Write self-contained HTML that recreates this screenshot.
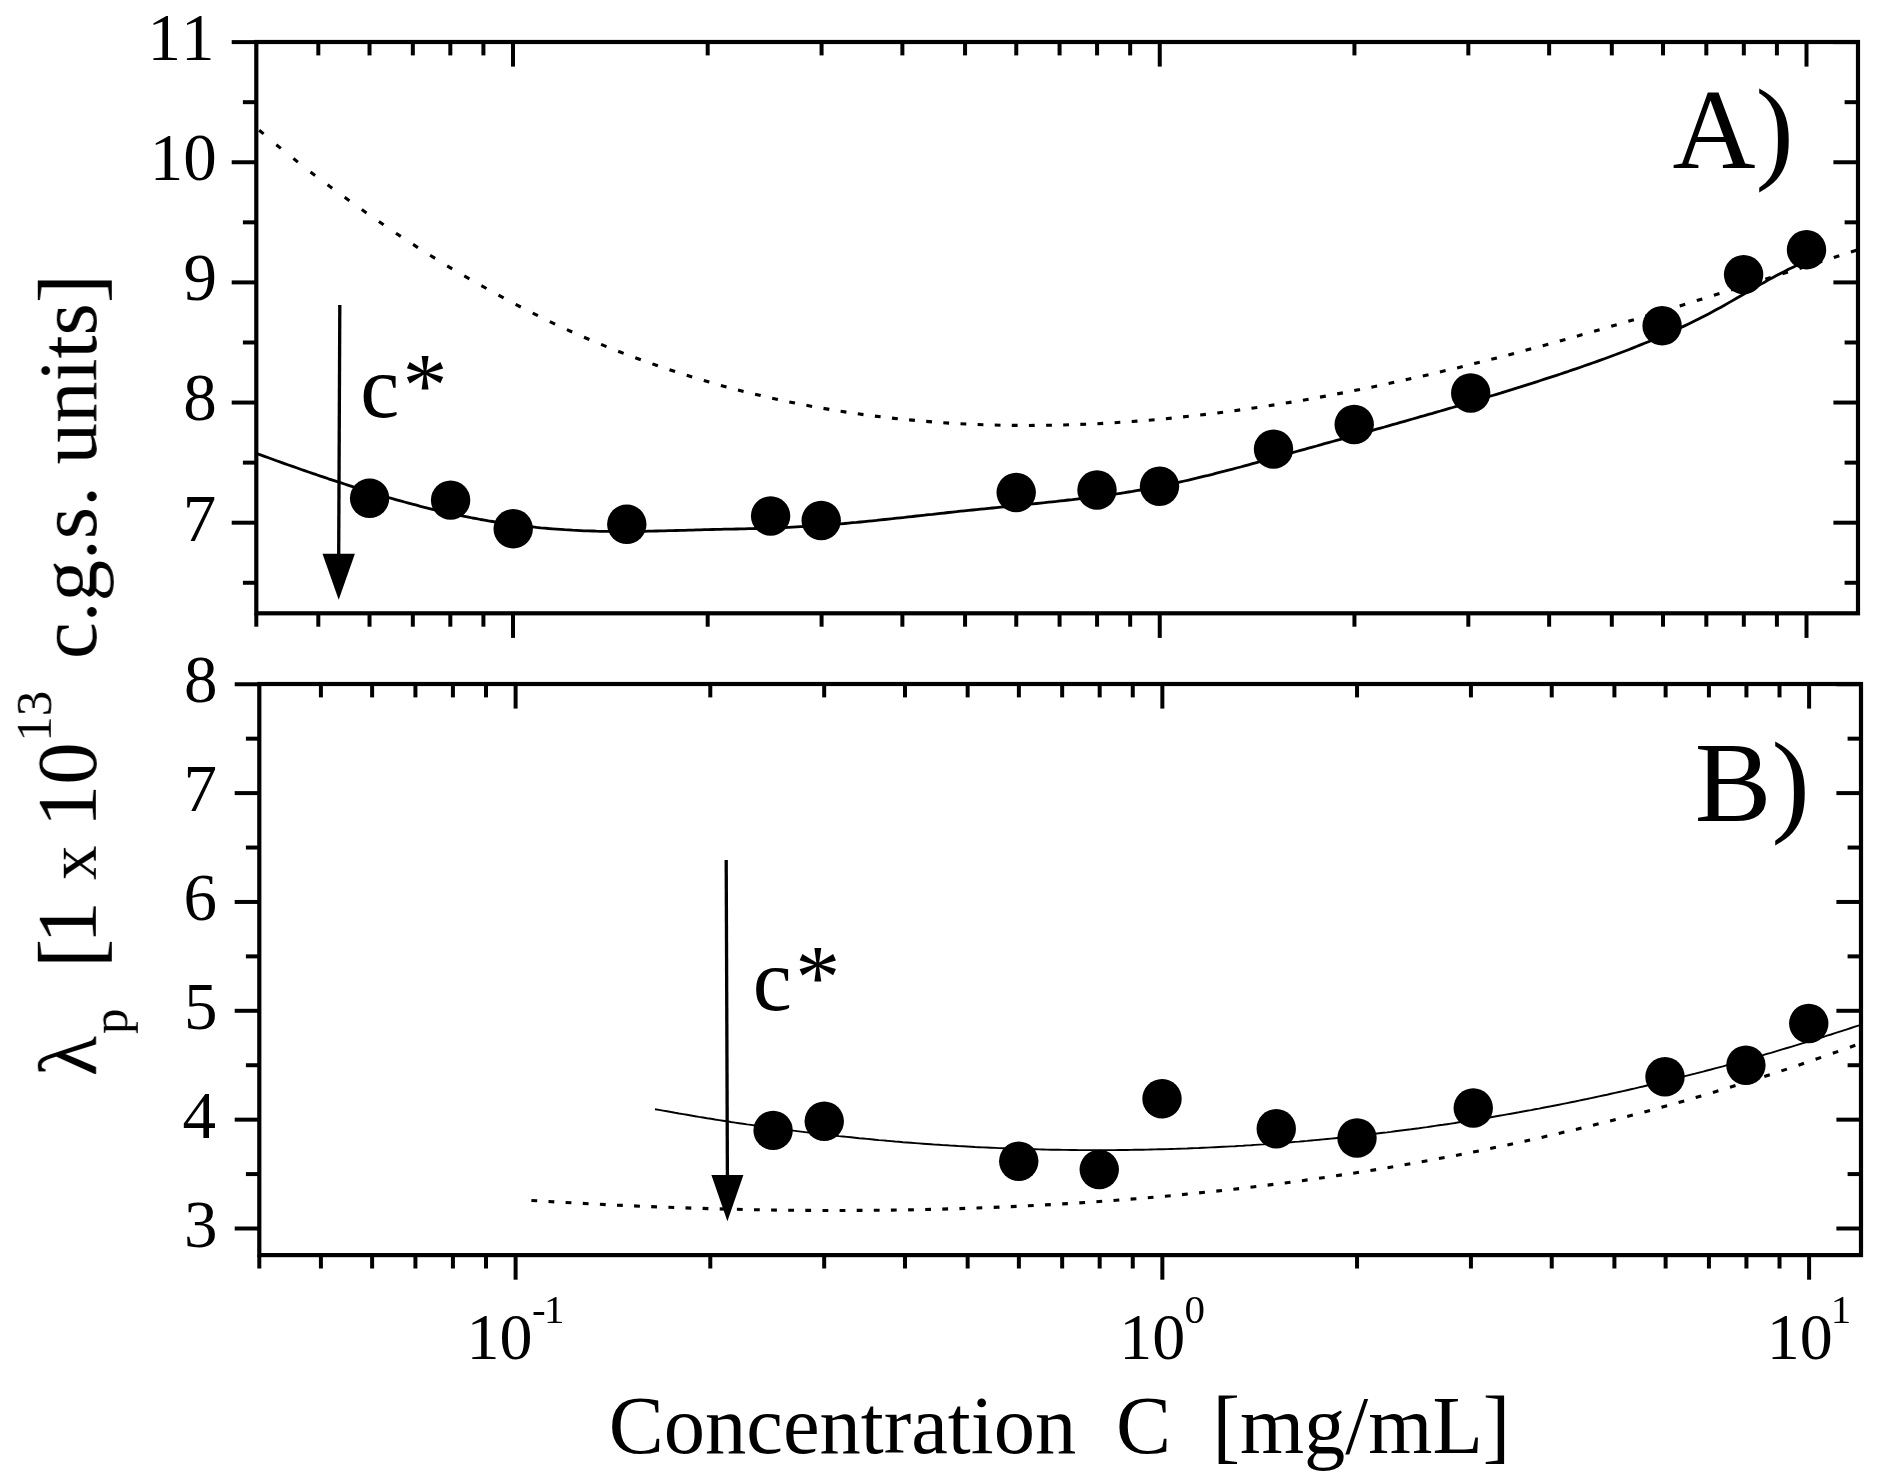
<!DOCTYPE html>
<html><head><meta charset="utf-8"><title>Figure</title>
<style>
html,body{margin:0;padding:0;background:#fff;}
svg{display:block;}
text{fill:#000;font-kerning:none;}
</style></head>
<body>
<svg width="1880" height="1480" viewBox="0 0 1880 1480">
<defs><filter id="soft" x="0" y="0" width="1880" height="1480" filterUnits="userSpaceOnUse"><feGaussianBlur stdDeviation="0.6"/></filter></defs>
<rect width="1880" height="1480" fill="#fff"/>
<g filter="url(#soft)">
<rect x="256.3" y="42.0" width="1601.70" height="571.30" fill="none" stroke="#000" stroke-width="4.2"/>
<line x1="513.00" y1="42.00" x2="513.00" y2="66.60" stroke="#000" stroke-width="4.0" stroke-linecap="butt"/>
<line x1="513.00" y1="613.30" x2="513.00" y2="637.90" stroke="#000" stroke-width="4.0" stroke-linecap="butt"/>
<line x1="1159.75" y1="42.00" x2="1159.75" y2="66.60" stroke="#000" stroke-width="4.0" stroke-linecap="butt"/>
<line x1="1159.75" y1="613.30" x2="1159.75" y2="637.90" stroke="#000" stroke-width="4.0" stroke-linecap="butt"/>
<line x1="1806.50" y1="42.00" x2="1806.50" y2="66.60" stroke="#000" stroke-width="4.0" stroke-linecap="butt"/>
<line x1="1806.50" y1="613.30" x2="1806.50" y2="637.90" stroke="#000" stroke-width="4.0" stroke-linecap="butt"/>
<line x1="256.30" y1="613.30" x2="256.30" y2="626.70" stroke="#000" stroke-width="4.0" stroke-linecap="butt"/>
<line x1="318.31" y1="42.00" x2="318.31" y2="55.40" stroke="#000" stroke-width="4.0" stroke-linecap="butt"/>
<line x1="318.31" y1="613.30" x2="318.31" y2="626.70" stroke="#000" stroke-width="4.0" stroke-linecap="butt"/>
<line x1="369.52" y1="42.00" x2="369.52" y2="55.40" stroke="#000" stroke-width="4.0" stroke-linecap="butt"/>
<line x1="369.52" y1="613.30" x2="369.52" y2="626.70" stroke="#000" stroke-width="4.0" stroke-linecap="butt"/>
<line x1="412.82" y1="42.00" x2="412.82" y2="55.40" stroke="#000" stroke-width="4.0" stroke-linecap="butt"/>
<line x1="412.82" y1="613.30" x2="412.82" y2="626.70" stroke="#000" stroke-width="4.0" stroke-linecap="butt"/>
<line x1="450.32" y1="42.00" x2="450.32" y2="55.40" stroke="#000" stroke-width="4.0" stroke-linecap="butt"/>
<line x1="450.32" y1="613.30" x2="450.32" y2="626.70" stroke="#000" stroke-width="4.0" stroke-linecap="butt"/>
<line x1="483.41" y1="42.00" x2="483.41" y2="55.40" stroke="#000" stroke-width="4.0" stroke-linecap="butt"/>
<line x1="483.41" y1="613.30" x2="483.41" y2="626.70" stroke="#000" stroke-width="4.0" stroke-linecap="butt"/>
<line x1="707.69" y1="42.00" x2="707.69" y2="55.40" stroke="#000" stroke-width="4.0" stroke-linecap="butt"/>
<line x1="707.69" y1="613.30" x2="707.69" y2="626.70" stroke="#000" stroke-width="4.0" stroke-linecap="butt"/>
<line x1="821.58" y1="42.00" x2="821.58" y2="55.40" stroke="#000" stroke-width="4.0" stroke-linecap="butt"/>
<line x1="821.58" y1="613.30" x2="821.58" y2="626.70" stroke="#000" stroke-width="4.0" stroke-linecap="butt"/>
<line x1="902.38" y1="42.00" x2="902.38" y2="55.40" stroke="#000" stroke-width="4.0" stroke-linecap="butt"/>
<line x1="902.38" y1="613.30" x2="902.38" y2="626.70" stroke="#000" stroke-width="4.0" stroke-linecap="butt"/>
<line x1="965.06" y1="42.00" x2="965.06" y2="55.40" stroke="#000" stroke-width="4.0" stroke-linecap="butt"/>
<line x1="965.06" y1="613.30" x2="965.06" y2="626.70" stroke="#000" stroke-width="4.0" stroke-linecap="butt"/>
<line x1="1016.27" y1="42.00" x2="1016.27" y2="55.40" stroke="#000" stroke-width="4.0" stroke-linecap="butt"/>
<line x1="1016.27" y1="613.30" x2="1016.27" y2="626.70" stroke="#000" stroke-width="4.0" stroke-linecap="butt"/>
<line x1="1059.57" y1="42.00" x2="1059.57" y2="55.40" stroke="#000" stroke-width="4.0" stroke-linecap="butt"/>
<line x1="1059.57" y1="613.30" x2="1059.57" y2="626.70" stroke="#000" stroke-width="4.0" stroke-linecap="butt"/>
<line x1="1097.07" y1="42.00" x2="1097.07" y2="55.40" stroke="#000" stroke-width="4.0" stroke-linecap="butt"/>
<line x1="1097.07" y1="613.30" x2="1097.07" y2="626.70" stroke="#000" stroke-width="4.0" stroke-linecap="butt"/>
<line x1="1130.16" y1="42.00" x2="1130.16" y2="55.40" stroke="#000" stroke-width="4.0" stroke-linecap="butt"/>
<line x1="1130.16" y1="613.30" x2="1130.16" y2="626.70" stroke="#000" stroke-width="4.0" stroke-linecap="butt"/>
<line x1="1354.44" y1="42.00" x2="1354.44" y2="55.40" stroke="#000" stroke-width="4.0" stroke-linecap="butt"/>
<line x1="1354.44" y1="613.30" x2="1354.44" y2="626.70" stroke="#000" stroke-width="4.0" stroke-linecap="butt"/>
<line x1="1468.33" y1="42.00" x2="1468.33" y2="55.40" stroke="#000" stroke-width="4.0" stroke-linecap="butt"/>
<line x1="1468.33" y1="613.30" x2="1468.33" y2="626.70" stroke="#000" stroke-width="4.0" stroke-linecap="butt"/>
<line x1="1549.13" y1="42.00" x2="1549.13" y2="55.40" stroke="#000" stroke-width="4.0" stroke-linecap="butt"/>
<line x1="1549.13" y1="613.30" x2="1549.13" y2="626.70" stroke="#000" stroke-width="4.0" stroke-linecap="butt"/>
<line x1="1611.81" y1="42.00" x2="1611.81" y2="55.40" stroke="#000" stroke-width="4.0" stroke-linecap="butt"/>
<line x1="1611.81" y1="613.30" x2="1611.81" y2="626.70" stroke="#000" stroke-width="4.0" stroke-linecap="butt"/>
<line x1="1663.02" y1="42.00" x2="1663.02" y2="55.40" stroke="#000" stroke-width="4.0" stroke-linecap="butt"/>
<line x1="1663.02" y1="613.30" x2="1663.02" y2="626.70" stroke="#000" stroke-width="4.0" stroke-linecap="butt"/>
<line x1="1706.32" y1="42.00" x2="1706.32" y2="55.40" stroke="#000" stroke-width="4.0" stroke-linecap="butt"/>
<line x1="1706.32" y1="613.30" x2="1706.32" y2="626.70" stroke="#000" stroke-width="4.0" stroke-linecap="butt"/>
<line x1="1743.82" y1="42.00" x2="1743.82" y2="55.40" stroke="#000" stroke-width="4.0" stroke-linecap="butt"/>
<line x1="1743.82" y1="613.30" x2="1743.82" y2="626.70" stroke="#000" stroke-width="4.0" stroke-linecap="butt"/>
<line x1="1776.91" y1="42.00" x2="1776.91" y2="55.40" stroke="#000" stroke-width="4.0" stroke-linecap="butt"/>
<line x1="1776.91" y1="613.30" x2="1776.91" y2="626.70" stroke="#000" stroke-width="4.0" stroke-linecap="butt"/>
<line x1="231.70" y1="522.70" x2="256.30" y2="522.70" stroke="#000" stroke-width="4.0" stroke-linecap="butt"/>
<line x1="1833.40" y1="522.70" x2="1858.00" y2="522.70" stroke="#000" stroke-width="4.0" stroke-linecap="butt"/>
<line x1="231.70" y1="402.55" x2="256.30" y2="402.55" stroke="#000" stroke-width="4.0" stroke-linecap="butt"/>
<line x1="1833.40" y1="402.55" x2="1858.00" y2="402.55" stroke="#000" stroke-width="4.0" stroke-linecap="butt"/>
<line x1="231.70" y1="282.40" x2="256.30" y2="282.40" stroke="#000" stroke-width="4.0" stroke-linecap="butt"/>
<line x1="1833.40" y1="282.40" x2="1858.00" y2="282.40" stroke="#000" stroke-width="4.0" stroke-linecap="butt"/>
<line x1="231.70" y1="162.25" x2="256.30" y2="162.25" stroke="#000" stroke-width="4.0" stroke-linecap="butt"/>
<line x1="1833.40" y1="162.25" x2="1858.00" y2="162.25" stroke="#000" stroke-width="4.0" stroke-linecap="butt"/>
<line x1="231.70" y1="42.10" x2="256.30" y2="42.10" stroke="#000" stroke-width="4.0" stroke-linecap="butt"/>
<line x1="1833.40" y1="42.10" x2="1858.00" y2="42.10" stroke="#000" stroke-width="4.0" stroke-linecap="butt"/>
<line x1="242.90" y1="582.78" x2="256.30" y2="582.78" stroke="#000" stroke-width="4.0" stroke-linecap="butt"/>
<line x1="1844.60" y1="582.78" x2="1858.00" y2="582.78" stroke="#000" stroke-width="4.0" stroke-linecap="butt"/>
<line x1="242.90" y1="462.63" x2="256.30" y2="462.63" stroke="#000" stroke-width="4.0" stroke-linecap="butt"/>
<line x1="1844.60" y1="462.63" x2="1858.00" y2="462.63" stroke="#000" stroke-width="4.0" stroke-linecap="butt"/>
<line x1="242.90" y1="342.48" x2="256.30" y2="342.48" stroke="#000" stroke-width="4.0" stroke-linecap="butt"/>
<line x1="1844.60" y1="342.48" x2="1858.00" y2="342.48" stroke="#000" stroke-width="4.0" stroke-linecap="butt"/>
<line x1="242.90" y1="222.33" x2="256.30" y2="222.33" stroke="#000" stroke-width="4.0" stroke-linecap="butt"/>
<line x1="1844.60" y1="222.33" x2="1858.00" y2="222.33" stroke="#000" stroke-width="4.0" stroke-linecap="butt"/>
<line x1="242.90" y1="102.18" x2="256.30" y2="102.18" stroke="#000" stroke-width="4.0" stroke-linecap="butt"/>
<line x1="1844.60" y1="102.18" x2="1858.00" y2="102.18" stroke="#000" stroke-width="4.0" stroke-linecap="butt"/>
<rect x="259.3" y="684.0" width="1601.70" height="571.10" fill="none" stroke="#000" stroke-width="4.2"/>
<line x1="515.60" y1="684.00" x2="515.60" y2="708.60" stroke="#000" stroke-width="4.0" stroke-linecap="butt"/>
<line x1="515.60" y1="1255.10" x2="515.60" y2="1279.70" stroke="#000" stroke-width="4.0" stroke-linecap="butt"/>
<line x1="1162.35" y1="684.00" x2="1162.35" y2="708.60" stroke="#000" stroke-width="4.0" stroke-linecap="butt"/>
<line x1="1162.35" y1="1255.10" x2="1162.35" y2="1279.70" stroke="#000" stroke-width="4.0" stroke-linecap="butt"/>
<line x1="1809.10" y1="684.00" x2="1809.10" y2="708.60" stroke="#000" stroke-width="4.0" stroke-linecap="butt"/>
<line x1="1809.10" y1="1255.10" x2="1809.10" y2="1279.70" stroke="#000" stroke-width="4.0" stroke-linecap="butt"/>
<line x1="259.30" y1="1255.10" x2="259.30" y2="1268.50" stroke="#000" stroke-width="4.0" stroke-linecap="butt"/>
<line x1="320.91" y1="684.00" x2="320.91" y2="697.40" stroke="#000" stroke-width="4.0" stroke-linecap="butt"/>
<line x1="320.91" y1="1255.10" x2="320.91" y2="1268.50" stroke="#000" stroke-width="4.0" stroke-linecap="butt"/>
<line x1="372.12" y1="684.00" x2="372.12" y2="697.40" stroke="#000" stroke-width="4.0" stroke-linecap="butt"/>
<line x1="372.12" y1="1255.10" x2="372.12" y2="1268.50" stroke="#000" stroke-width="4.0" stroke-linecap="butt"/>
<line x1="415.42" y1="684.00" x2="415.42" y2="697.40" stroke="#000" stroke-width="4.0" stroke-linecap="butt"/>
<line x1="415.42" y1="1255.10" x2="415.42" y2="1268.50" stroke="#000" stroke-width="4.0" stroke-linecap="butt"/>
<line x1="452.92" y1="684.00" x2="452.92" y2="697.40" stroke="#000" stroke-width="4.0" stroke-linecap="butt"/>
<line x1="452.92" y1="1255.10" x2="452.92" y2="1268.50" stroke="#000" stroke-width="4.0" stroke-linecap="butt"/>
<line x1="486.01" y1="684.00" x2="486.01" y2="697.40" stroke="#000" stroke-width="4.0" stroke-linecap="butt"/>
<line x1="486.01" y1="1255.10" x2="486.01" y2="1268.50" stroke="#000" stroke-width="4.0" stroke-linecap="butt"/>
<line x1="710.29" y1="684.00" x2="710.29" y2="697.40" stroke="#000" stroke-width="4.0" stroke-linecap="butt"/>
<line x1="710.29" y1="1255.10" x2="710.29" y2="1268.50" stroke="#000" stroke-width="4.0" stroke-linecap="butt"/>
<line x1="824.18" y1="684.00" x2="824.18" y2="697.40" stroke="#000" stroke-width="4.0" stroke-linecap="butt"/>
<line x1="824.18" y1="1255.10" x2="824.18" y2="1268.50" stroke="#000" stroke-width="4.0" stroke-linecap="butt"/>
<line x1="904.98" y1="684.00" x2="904.98" y2="697.40" stroke="#000" stroke-width="4.0" stroke-linecap="butt"/>
<line x1="904.98" y1="1255.10" x2="904.98" y2="1268.50" stroke="#000" stroke-width="4.0" stroke-linecap="butt"/>
<line x1="967.66" y1="684.00" x2="967.66" y2="697.40" stroke="#000" stroke-width="4.0" stroke-linecap="butt"/>
<line x1="967.66" y1="1255.10" x2="967.66" y2="1268.50" stroke="#000" stroke-width="4.0" stroke-linecap="butt"/>
<line x1="1018.87" y1="684.00" x2="1018.87" y2="697.40" stroke="#000" stroke-width="4.0" stroke-linecap="butt"/>
<line x1="1018.87" y1="1255.10" x2="1018.87" y2="1268.50" stroke="#000" stroke-width="4.0" stroke-linecap="butt"/>
<line x1="1062.17" y1="684.00" x2="1062.17" y2="697.40" stroke="#000" stroke-width="4.0" stroke-linecap="butt"/>
<line x1="1062.17" y1="1255.10" x2="1062.17" y2="1268.50" stroke="#000" stroke-width="4.0" stroke-linecap="butt"/>
<line x1="1099.67" y1="684.00" x2="1099.67" y2="697.40" stroke="#000" stroke-width="4.0" stroke-linecap="butt"/>
<line x1="1099.67" y1="1255.10" x2="1099.67" y2="1268.50" stroke="#000" stroke-width="4.0" stroke-linecap="butt"/>
<line x1="1132.76" y1="684.00" x2="1132.76" y2="697.40" stroke="#000" stroke-width="4.0" stroke-linecap="butt"/>
<line x1="1132.76" y1="1255.10" x2="1132.76" y2="1268.50" stroke="#000" stroke-width="4.0" stroke-linecap="butt"/>
<line x1="1357.04" y1="684.00" x2="1357.04" y2="697.40" stroke="#000" stroke-width="4.0" stroke-linecap="butt"/>
<line x1="1357.04" y1="1255.10" x2="1357.04" y2="1268.50" stroke="#000" stroke-width="4.0" stroke-linecap="butt"/>
<line x1="1470.93" y1="684.00" x2="1470.93" y2="697.40" stroke="#000" stroke-width="4.0" stroke-linecap="butt"/>
<line x1="1470.93" y1="1255.10" x2="1470.93" y2="1268.50" stroke="#000" stroke-width="4.0" stroke-linecap="butt"/>
<line x1="1551.73" y1="684.00" x2="1551.73" y2="697.40" stroke="#000" stroke-width="4.0" stroke-linecap="butt"/>
<line x1="1551.73" y1="1255.10" x2="1551.73" y2="1268.50" stroke="#000" stroke-width="4.0" stroke-linecap="butt"/>
<line x1="1614.41" y1="684.00" x2="1614.41" y2="697.40" stroke="#000" stroke-width="4.0" stroke-linecap="butt"/>
<line x1="1614.41" y1="1255.10" x2="1614.41" y2="1268.50" stroke="#000" stroke-width="4.0" stroke-linecap="butt"/>
<line x1="1665.62" y1="684.00" x2="1665.62" y2="697.40" stroke="#000" stroke-width="4.0" stroke-linecap="butt"/>
<line x1="1665.62" y1="1255.10" x2="1665.62" y2="1268.50" stroke="#000" stroke-width="4.0" stroke-linecap="butt"/>
<line x1="1708.92" y1="684.00" x2="1708.92" y2="697.40" stroke="#000" stroke-width="4.0" stroke-linecap="butt"/>
<line x1="1708.92" y1="1255.10" x2="1708.92" y2="1268.50" stroke="#000" stroke-width="4.0" stroke-linecap="butt"/>
<line x1="1746.42" y1="684.00" x2="1746.42" y2="697.40" stroke="#000" stroke-width="4.0" stroke-linecap="butt"/>
<line x1="1746.42" y1="1255.10" x2="1746.42" y2="1268.50" stroke="#000" stroke-width="4.0" stroke-linecap="butt"/>
<line x1="1779.51" y1="684.00" x2="1779.51" y2="697.40" stroke="#000" stroke-width="4.0" stroke-linecap="butt"/>
<line x1="1779.51" y1="1255.10" x2="1779.51" y2="1268.50" stroke="#000" stroke-width="4.0" stroke-linecap="butt"/>
<line x1="234.70" y1="1228.50" x2="259.30" y2="1228.50" stroke="#000" stroke-width="4.0" stroke-linecap="butt"/>
<line x1="1836.40" y1="1228.50" x2="1861.00" y2="1228.50" stroke="#000" stroke-width="4.0" stroke-linecap="butt"/>
<line x1="234.70" y1="1119.65" x2="259.30" y2="1119.65" stroke="#000" stroke-width="4.0" stroke-linecap="butt"/>
<line x1="1836.40" y1="1119.65" x2="1861.00" y2="1119.65" stroke="#000" stroke-width="4.0" stroke-linecap="butt"/>
<line x1="234.70" y1="1010.80" x2="259.30" y2="1010.80" stroke="#000" stroke-width="4.0" stroke-linecap="butt"/>
<line x1="1836.40" y1="1010.80" x2="1861.00" y2="1010.80" stroke="#000" stroke-width="4.0" stroke-linecap="butt"/>
<line x1="234.70" y1="901.95" x2="259.30" y2="901.95" stroke="#000" stroke-width="4.0" stroke-linecap="butt"/>
<line x1="1836.40" y1="901.95" x2="1861.00" y2="901.95" stroke="#000" stroke-width="4.0" stroke-linecap="butt"/>
<line x1="234.70" y1="793.10" x2="259.30" y2="793.10" stroke="#000" stroke-width="4.0" stroke-linecap="butt"/>
<line x1="1836.40" y1="793.10" x2="1861.00" y2="793.10" stroke="#000" stroke-width="4.0" stroke-linecap="butt"/>
<line x1="234.70" y1="684.25" x2="259.30" y2="684.25" stroke="#000" stroke-width="4.0" stroke-linecap="butt"/>
<line x1="1836.40" y1="684.25" x2="1861.00" y2="684.25" stroke="#000" stroke-width="4.0" stroke-linecap="butt"/>
<line x1="245.90" y1="1174.08" x2="259.30" y2="1174.08" stroke="#000" stroke-width="4.0" stroke-linecap="butt"/>
<line x1="1847.60" y1="1174.08" x2="1861.00" y2="1174.08" stroke="#000" stroke-width="4.0" stroke-linecap="butt"/>
<line x1="245.90" y1="1065.22" x2="259.30" y2="1065.22" stroke="#000" stroke-width="4.0" stroke-linecap="butt"/>
<line x1="1847.60" y1="1065.22" x2="1861.00" y2="1065.22" stroke="#000" stroke-width="4.0" stroke-linecap="butt"/>
<line x1="245.90" y1="956.38" x2="259.30" y2="956.38" stroke="#000" stroke-width="4.0" stroke-linecap="butt"/>
<line x1="1847.60" y1="956.38" x2="1861.00" y2="956.38" stroke="#000" stroke-width="4.0" stroke-linecap="butt"/>
<line x1="245.90" y1="847.53" x2="259.30" y2="847.53" stroke="#000" stroke-width="4.0" stroke-linecap="butt"/>
<line x1="1847.60" y1="847.53" x2="1861.00" y2="847.53" stroke="#000" stroke-width="4.0" stroke-linecap="butt"/>
<line x1="245.90" y1="738.67" x2="259.30" y2="738.67" stroke="#000" stroke-width="4.0" stroke-linecap="butt"/>
<line x1="1847.60" y1="738.67" x2="1861.00" y2="738.67" stroke="#000" stroke-width="4.0" stroke-linecap="butt"/>
<path d="M256.5,453.5 L260.5,454.9 L264.5,456.4 L268.5,457.8 L272.5,459.3 L276.5,460.7 L280.5,462.1 L284.5,463.6 L288.5,465.0 L292.5,466.4 L296.5,467.8 L300.5,469.2 L304.5,470.6 L308.5,472.0 L312.5,473.4 L316.5,474.7 L320.5,476.1 L324.5,477.4 L328.5,478.8 L332.5,480.1 L336.5,481.4 L340.5,482.7 L344.5,484.0 L348.5,485.3 L352.5,486.6 L356.5,487.9 L360.5,489.1 L364.5,490.4 L368.5,491.6 L372.5,492.8 L376.5,494.0 L380.5,495.2 L384.5,496.4 L388.5,497.5 L392.5,498.7 L396.5,499.8 L400.5,500.9 L404.5,502.0 L408.5,503.1 L412.5,504.2 L416.5,505.2 L420.5,506.3 L424.5,507.3 L428.5,508.3 L432.5,509.3 L436.5,510.2 L440.5,511.2 L444.5,512.1 L448.5,513.0 L452.5,513.9 L456.5,514.7 L460.5,515.6 L464.5,516.4 L468.5,517.2 L472.5,518.0 L476.5,518.7 L480.5,519.5 L484.5,520.2 L488.5,520.9 L492.5,521.5 L496.5,522.2 L500.5,522.8 L504.5,523.4 L508.5,524.0 L512.5,524.5 L516.5,525.1 L520.5,525.6 L524.5,526.0 L528.5,526.5 L532.5,526.9 L536.5,527.4 L540.5,527.8 L544.5,528.1 L548.5,528.5 L552.5,528.8 L556.5,529.1 L560.5,529.4 L564.5,529.7 L568.5,529.9 L572.5,530.2 L576.5,530.4 L580.5,530.6 L584.5,530.8 L588.5,530.9 L592.5,531.0 L596.5,531.2 L600.5,531.3 L604.5,531.3 L608.5,531.4 L612.5,531.4 L616.5,531.5 L620.5,531.5 L624.5,531.5 L628.5,531.5 L632.5,531.4 L636.5,531.4 L640.5,531.3 L644.5,531.3 L648.5,531.2 L652.5,531.1 L656.5,531.0 L660.5,530.9 L664.5,530.8 L668.5,530.7 L672.5,530.6 L676.5,530.5 L680.5,530.4 L684.5,530.3 L688.5,530.2 L692.5,530.1 L696.5,529.9 L700.5,529.8 L704.5,529.7 L708.5,529.6 L712.5,529.5 L716.5,529.4 L720.5,529.3 L724.5,529.2 L728.5,529.1 L732.5,529.1 L736.5,529.0 L740.5,528.9 L744.5,528.8 L748.5,528.7 L752.5,528.6 L756.5,528.5 L760.5,528.4 L764.5,528.2 L768.5,528.1 L772.5,528.0 L776.5,527.8 L780.5,527.7 L784.5,527.5 L788.5,527.3 L792.5,527.1 L796.5,526.9 L800.5,526.7 L804.5,526.5 L808.5,526.2 L812.5,526.0 L816.5,525.7 L820.5,525.4 L824.5,525.1 L828.5,524.8 L832.5,524.5 L836.5,524.2 L840.5,523.8 L844.5,523.5 L848.5,523.1 L852.5,522.7 L856.5,522.4 L860.5,522.0 L864.5,521.6 L868.5,521.2 L872.5,520.8 L876.5,520.4 L880.5,519.9 L884.5,519.5 L888.5,519.1 L892.5,518.7 L896.5,518.2 L900.5,517.8 L904.5,517.4 L908.5,516.9 L912.5,516.5 L916.5,516.0 L920.5,515.6 L924.5,515.2 L928.5,514.7 L932.5,514.3 L936.5,513.8 L940.5,513.4 L944.5,513.0 L948.5,512.5 L952.5,512.1 L956.5,511.7 L960.5,511.2 L964.5,510.8 L968.5,510.4 L972.5,510.0 L976.5,509.6 L980.5,509.2 L984.5,508.8 L988.5,508.4 L992.5,508.0 L996.5,507.6 L1000.5,507.2 L1004.5,506.8 L1008.5,506.4 L1012.5,506.0 L1016.5,505.5 L1020.5,505.1 L1024.5,504.7 L1028.5,504.3 L1032.5,503.9 L1036.5,503.5 L1040.5,503.1 L1044.5,502.7 L1048.5,502.2 L1052.5,501.8 L1056.5,501.4 L1060.5,500.9 L1064.5,500.5 L1068.5,500.0 L1072.5,499.6 L1076.5,499.1 L1080.5,498.6 L1084.5,498.1 L1088.5,497.7 L1092.5,497.2 L1096.5,496.6 L1100.5,496.1 L1104.5,495.6 L1108.5,495.0 L1112.5,494.5 L1116.5,493.9 L1120.5,493.3 L1124.5,492.7 L1128.5,492.0 L1132.5,491.4 L1136.5,490.7 L1140.5,490.0 L1144.5,489.3 L1148.5,488.5 L1152.5,487.8 L1156.5,487.0 L1160.5,486.2 L1164.5,485.4 L1168.5,484.5 L1172.5,483.7 L1176.5,482.8 L1180.5,481.9 L1184.5,481.0 L1188.5,480.1 L1192.5,479.1 L1196.5,478.2 L1200.5,477.2 L1204.5,476.2 L1208.5,475.3 L1212.5,474.3 L1216.5,473.2 L1220.5,472.2 L1224.5,471.2 L1228.5,470.1 L1232.5,469.1 L1236.5,468.0 L1240.5,467.0 L1244.5,465.9 L1248.5,464.8 L1252.5,463.7 L1256.5,462.6 L1260.5,461.5 L1264.5,460.4 L1268.5,459.3 L1272.5,458.2 L1276.5,457.1 L1280.5,456.0 L1284.5,454.9 L1288.5,453.7 L1292.5,452.6 L1296.5,451.5 L1300.5,450.4 L1304.5,449.3 L1308.5,448.2 L1312.5,447.1 L1316.5,446.0 L1320.5,444.8 L1324.5,443.7 L1328.5,442.6 L1332.5,441.5 L1336.5,440.4 L1340.5,439.3 L1344.5,438.2 L1348.5,437.0 L1352.5,435.9 L1356.5,434.8 L1360.5,433.7 L1364.5,432.6 L1368.5,431.5 L1372.5,430.3 L1376.5,429.2 L1380.5,428.1 L1384.5,427.0 L1388.5,425.8 L1392.5,424.7 L1396.5,423.6 L1400.5,422.4 L1404.5,421.3 L1408.5,420.2 L1412.5,419.0 L1416.5,417.9 L1420.5,416.7 L1424.5,415.6 L1428.5,414.4 L1432.5,413.3 L1436.5,412.1 L1440.5,411.0 L1444.5,409.8 L1448.5,408.6 L1452.5,407.5 L1456.5,406.3 L1460.5,405.1 L1464.5,403.9 L1468.5,402.7 L1472.5,401.5 L1476.5,400.3 L1480.5,399.1 L1484.5,397.9 L1488.5,396.7 L1492.5,395.5 L1496.5,394.3 L1500.5,393.1 L1504.5,391.8 L1508.5,390.6 L1512.5,389.4 L1516.5,388.1 L1520.5,386.9 L1524.5,385.6 L1528.5,384.3 L1532.5,383.1 L1536.5,381.8 L1540.5,380.5 L1544.5,379.2 L1548.5,377.9 L1552.5,376.6 L1556.5,375.3 L1560.5,374.0 L1564.5,372.6 L1568.5,371.3 L1572.5,369.9 L1576.5,368.6 L1580.5,367.2 L1584.5,365.8 L1588.5,364.4 L1592.5,363.0 L1596.5,361.6 L1600.5,360.1 L1604.5,358.7 L1608.5,357.2 L1612.5,355.7 L1616.5,354.3 L1620.5,352.7 L1624.5,351.2 L1628.5,349.7 L1632.5,348.1 L1636.5,346.5 L1640.5,344.9 L1644.5,343.3 L1648.5,341.7 L1652.5,340.0 L1656.5,338.3 L1660.5,336.6 L1664.5,334.9 L1668.5,333.2 L1672.5,331.4 L1676.5,329.6 L1680.5,327.7 L1684.5,325.9 L1688.5,324.0 L1692.5,322.0 L1696.5,320.1 L1700.5,318.1 L1704.5,316.0 L1708.5,313.9 L1712.5,311.8 L1716.5,309.6 L1720.5,307.4 L1724.5,305.2 L1728.5,302.9 L1732.5,300.6 L1736.5,298.3 L1740.5,296.0 L1744.5,293.7 L1748.5,291.3 L1752.5,289.0 L1756.5,286.7 L1760.5,284.4 L1764.5,282.2 L1768.5,279.9 L1772.5,277.7 L1776.5,275.6 L1780.5,273.4 L1784.5,271.4 L1788.5,269.3 L1792.5,267.4 L1796.5,265.5 L1800.5,263.7 L1804.5,261.9 L1806.5,261.1" fill="none" stroke="#000" stroke-width="2.8" stroke-linejoin="round"/>
<path d="M259.2,130.2L263.6,133.9M276.3,144.7L280.8,148.4M293.4,158.5L297.9,162.1M310.5,171.9L315.1,175.4M327.6,184.8L332.2,188.2M344.7,197.3L349.4,200.7M361.8,209.6L366.5,212.9M378.9,221.5L383.6,224.8M396.0,233.2L400.8,236.4M413.1,244.4L417.9,247.6M430.1,255.3L435.1,258.4M447.2,265.8L452.2,268.8M464.3,275.9L469.4,278.8M481.4,285.6L486.5,288.5M498.5,295.1L503.6,297.9M515.6,304.3L520.8,307.0M532.7,313.1L537.9,315.7M549.8,321.6L555.1,324.1M566.9,329.6L572.2,332.0M584.0,337.2L589.4,339.5M601.1,344.4L606.5,346.6M618.2,351.3L623.6,353.4M635.3,357.8L640.8,359.8M652.4,363.9L657.9,365.8M669.5,369.8L675.1,371.6M686.7,375.3L692.2,377.0M703.8,380.5L709.3,382.1M720.9,385.4L726.5,386.9M738.0,390.0L743.6,391.4M755.1,394.2L760.7,395.6M772.2,398.2L777.9,399.5M789.3,401.9L795.0,403.1M806.4,405.3L812.1,406.4M823.5,408.4L829.3,409.4M840.6,411.3L846.4,412.1M857.8,413.8L863.5,414.6M874.9,416.1L880.6,416.8M892.0,418.1L897.8,418.8M909.1,419.9L914.9,420.4M926.2,421.4L932.0,421.9M943.3,422.7L949.1,423.1M960.5,423.7L966.3,424.0M977.6,424.5L983.4,424.7M994.7,425.0L1000.5,425.2M1011.8,425.4L1017.6,425.4M1028.9,425.5L1034.7,425.4M1046.1,425.3L1051.9,425.2M1063.2,425.0L1069.0,424.8M1080.3,424.4L1086.1,424.2M1097.4,423.7L1103.2,423.4M1114.6,422.7L1120.3,422.3M1131.7,421.5L1137.5,421.1M1148.8,420.2L1154.6,419.7M1165.9,418.7L1171.7,418.1M1183.1,416.9L1188.8,416.3M1200.2,415.0L1205.9,414.4M1217.3,413.0L1223.1,412.2M1234.4,410.7L1240.2,409.9M1251.5,408.3L1257.3,407.5M1268.7,405.8L1274.4,404.9M1285.8,403.0L1291.5,402.1M1302.9,400.2L1308.6,399.2M1320.0,397.1L1325.8,396.1M1337.2,393.9L1342.9,392.9M1354.3,390.6L1360.0,389.5M1371.4,387.2L1377.1,386.0M1388.6,383.6L1394.2,382.3M1405.7,379.8L1411.3,378.6M1422.8,376.0L1428.5,374.7M1439.9,372.0L1445.6,370.6M1457.1,367.9L1462.7,366.5M1474.2,363.6L1479.8,362.2M1491.3,359.3L1496.9,357.9M1508.4,354.9L1514.0,353.4M1525.6,350.3L1531.2,348.8M1542.7,345.7L1548.3,344.2M1559.8,341.0L1565.4,339.4M1576.9,336.2L1582.5,334.6M1594.1,331.3L1599.6,329.7M1611.2,326.3L1616.7,324.7M1628.3,321.3L1633.9,319.7M1645.4,316.2L1651.0,314.6M1662.5,311.1L1668.1,309.4M1679.7,305.9L1685.2,304.2M1696.8,300.6L1702.3,298.9M1713.9,295.3L1719.5,293.6M1731.0,290.0L1736.6,288.3M1748.2,284.6L1753.7,282.9M1765.3,279.2L1770.8,277.5M1782.4,273.8L1787.9,272.1M1799.5,268.4L1805.1,266.6M1816.6,262.9L1822.2,261.2M1833.8,257.5L1839.3,255.7M1850.9,252.0L1856.4,250.2" fill="none" stroke="#000" stroke-width="3.1"/>
<path d="M655.0,1109.2 L659.0,1109.9 L663.0,1110.6 L667.0,1111.3 L671.0,1112.0 L675.0,1112.8 L679.0,1113.5 L683.0,1114.1 L687.0,1114.8 L691.0,1115.5 L695.0,1116.2 L699.0,1116.9 L703.0,1117.5 L707.0,1118.2 L711.0,1118.8 L715.0,1119.5 L719.0,1120.1 L723.0,1120.7 L727.0,1121.3 L731.0,1122.0 L735.0,1122.6 L739.0,1123.2 L743.0,1123.8 L747.0,1124.4 L751.0,1124.9 L755.0,1125.5 L759.0,1126.1 L763.0,1126.6 L767.0,1127.2 L771.0,1127.7 L775.0,1128.3 L779.0,1128.8 L783.0,1129.4 L787.0,1129.9 L791.0,1130.4 L795.0,1130.9 L799.0,1131.4 L803.0,1131.9 L807.0,1132.4 L811.0,1132.9 L815.0,1133.3 L819.0,1133.8 L823.0,1134.3 L827.0,1134.7 L831.0,1135.2 L835.0,1135.6 L839.0,1136.1 L843.0,1136.5 L847.0,1136.9 L851.0,1137.3 L855.0,1137.7 L859.0,1138.2 L863.0,1138.5 L867.0,1138.9 L871.0,1139.3 L875.0,1139.7 L879.0,1140.1 L883.0,1140.4 L887.0,1140.8 L891.0,1141.1 L895.0,1141.5 L899.0,1141.8 L903.0,1142.2 L907.0,1142.5 L911.0,1142.8 L915.0,1143.1 L919.0,1143.4 L923.0,1143.7 L927.0,1144.0 L931.0,1144.3 L935.0,1144.6 L939.0,1144.8 L943.0,1145.1 L947.0,1145.3 L951.0,1145.6 L955.0,1145.8 L959.0,1146.1 L963.0,1146.3 L967.0,1146.5 L971.0,1146.7 L975.0,1147.0 L979.0,1147.2 L983.0,1147.4 L987.0,1147.5 L991.0,1147.7 L995.0,1147.9 L999.0,1148.1 L1003.0,1148.2 L1007.0,1148.4 L1011.0,1148.5 L1015.0,1148.7 L1019.0,1148.8 L1023.0,1149.0 L1027.0,1149.1 L1031.0,1149.2 L1035.0,1149.3 L1039.0,1149.4 L1043.0,1149.5 L1047.0,1149.6 L1051.0,1149.7 L1055.0,1149.8 L1059.0,1149.8 L1063.0,1149.9 L1067.0,1149.9 L1071.0,1150.0 L1075.0,1150.0 L1079.0,1150.1 L1083.0,1150.1 L1087.0,1150.1 L1091.0,1150.1 L1095.0,1150.1 L1099.0,1150.1 L1103.0,1150.1 L1107.0,1150.1 L1111.0,1150.1 L1115.0,1150.1 L1119.0,1150.0 L1123.0,1150.0 L1127.0,1150.0 L1131.0,1149.9 L1135.0,1149.8 L1139.0,1149.8 L1143.0,1149.7 L1147.0,1149.6 L1151.0,1149.5 L1155.0,1149.4 L1159.0,1149.3 L1163.0,1149.2 L1167.0,1149.1 L1171.0,1149.0 L1175.0,1148.9 L1179.0,1148.7 L1183.0,1148.6 L1187.0,1148.5 L1191.0,1148.3 L1195.0,1148.1 L1199.0,1148.0 L1203.0,1147.8 L1207.0,1147.6 L1211.0,1147.4 L1215.0,1147.2 L1219.0,1147.0 L1223.0,1146.8 L1227.0,1146.6 L1231.0,1146.4 L1235.0,1146.2 L1239.0,1145.9 L1243.0,1145.7 L1247.0,1145.4 L1251.0,1145.2 L1255.0,1144.9 L1259.0,1144.6 L1263.0,1144.4 L1267.0,1144.1 L1271.0,1143.8 L1275.0,1143.5 L1279.0,1143.2 L1283.0,1142.9 L1287.0,1142.5 L1291.0,1142.2 L1295.0,1141.9 L1299.0,1141.6 L1303.0,1141.2 L1307.0,1140.9 L1311.0,1140.5 L1315.0,1140.1 L1319.0,1139.8 L1323.0,1139.4 L1327.0,1139.0 L1331.0,1138.6 L1335.0,1138.2 L1339.0,1137.8 L1343.0,1137.4 L1347.0,1136.9 L1351.0,1136.5 L1355.0,1136.1 L1359.0,1135.6 L1363.0,1135.2 L1367.0,1134.7 L1371.0,1134.3 L1375.0,1133.8 L1379.0,1133.3 L1383.0,1132.8 L1387.0,1132.4 L1391.0,1131.9 L1395.0,1131.3 L1399.0,1130.8 L1403.0,1130.3 L1407.0,1129.8 L1411.0,1129.3 L1415.0,1128.7 L1419.0,1128.2 L1423.0,1127.6 L1427.0,1127.1 L1431.0,1126.5 L1435.0,1125.9 L1439.0,1125.3 L1443.0,1124.8 L1447.0,1124.2 L1451.0,1123.6 L1455.0,1123.0 L1459.0,1122.3 L1463.0,1121.7 L1467.0,1121.1 L1471.0,1120.4 L1475.0,1119.8 L1479.0,1119.2 L1483.0,1118.5 L1487.0,1117.8 L1491.0,1117.2 L1495.0,1116.5 L1499.0,1115.8 L1503.0,1115.1 L1507.0,1114.4 L1511.0,1113.7 L1515.0,1113.0 L1519.0,1112.3 L1523.0,1111.5 L1527.0,1110.8 L1531.0,1110.1 L1535.0,1109.3 L1539.0,1108.6 L1543.0,1107.8 L1547.0,1107.0 L1551.0,1106.3 L1555.0,1105.5 L1559.0,1104.7 L1563.0,1103.9 L1567.0,1103.1 L1571.0,1102.3 L1575.0,1101.5 L1579.0,1100.6 L1583.0,1099.8 L1587.0,1099.0 L1591.0,1098.1 L1595.0,1097.3 L1599.0,1096.4 L1603.0,1095.5 L1607.0,1094.7 L1611.0,1093.8 L1615.0,1092.9 L1619.0,1092.0 L1623.0,1091.1 L1627.0,1090.2 L1631.0,1089.3 L1635.0,1088.4 L1639.0,1087.4 L1643.0,1086.5 L1647.0,1085.5 L1651.0,1084.6 L1655.0,1083.6 L1659.0,1082.7 L1663.0,1081.7 L1667.0,1080.7 L1671.0,1079.7 L1675.0,1078.7 L1679.0,1077.7 L1683.0,1076.7 L1687.0,1075.7 L1691.0,1074.7 L1695.0,1073.7 L1699.0,1072.6 L1703.0,1071.6 L1707.0,1070.5 L1711.0,1069.5 L1715.0,1068.4 L1719.0,1067.3 L1723.0,1066.3 L1727.0,1065.2 L1731.0,1064.1 L1735.0,1063.0 L1739.0,1061.9 L1743.0,1060.8 L1747.0,1059.6 L1751.0,1058.5 L1755.0,1057.4 L1759.0,1056.2 L1763.0,1055.1 L1767.0,1053.9 L1771.0,1052.8 L1775.0,1051.6 L1779.0,1050.4 L1783.0,1049.2 L1787.0,1048.0 L1791.0,1046.8 L1795.0,1045.6 L1799.0,1044.4 L1803.0,1043.2 L1807.0,1042.0 L1811.0,1040.7 L1815.0,1039.5 L1819.0,1038.2 L1823.0,1037.0 L1827.0,1035.7 L1831.0,1034.5 L1835.0,1033.2 L1839.0,1031.9 L1843.0,1030.6 L1847.0,1029.3 L1851.0,1028.0 L1855.0,1026.7 L1859.0,1025.4" fill="none" stroke="#000" stroke-width="1.9" stroke-linejoin="round"/>
<path d="M531.4,1200.5L537.2,1200.8M548.5,1201.5L554.3,1201.9M565.6,1202.5L571.4,1202.8M582.8,1203.4L588.6,1203.7M599.9,1204.3L605.7,1204.6M617.0,1205.2L622.8,1205.4M634.1,1205.9L639.9,1206.2M651.2,1206.6L657.0,1206.9M668.4,1207.3L674.2,1207.5M685.5,1207.9L691.3,1208.1M702.6,1208.4L708.4,1208.6M719.7,1208.9L725.5,1209.1M736.9,1209.3L742.7,1209.5M754.0,1209.7L759.8,1209.8M771.1,1210.0L776.9,1210.1M788.2,1210.2L794.0,1210.3M805.3,1210.4L811.1,1210.4M822.5,1210.5L828.3,1210.5M839.6,1210.5L845.4,1210.5M856.7,1210.4L862.5,1210.4M873.8,1210.3L879.6,1210.3M890.9,1210.1L896.7,1210.0M908.1,1209.9L913.9,1209.7M925.2,1209.5L931.0,1209.4M942.3,1209.1L948.1,1208.9M959.4,1208.6L965.2,1208.4M976.5,1208.0L982.3,1207.8M993.7,1207.4L999.5,1207.1M1010.8,1206.6L1016.6,1206.4M1027.9,1205.8L1033.7,1205.5M1045.0,1204.9L1050.8,1204.6M1062.2,1203.9L1067.9,1203.6M1079.3,1202.9L1085.1,1202.5M1096.4,1201.7L1102.2,1201.3M1113.5,1200.5L1119.3,1200.0M1130.6,1199.1L1136.4,1198.7M1147.8,1197.7L1153.5,1197.2M1164.9,1196.2L1170.7,1195.7M1182.0,1194.6L1187.8,1194.0M1199.1,1192.9L1204.9,1192.3M1216.3,1191.1L1222.0,1190.5M1233.4,1189.2L1239.1,1188.6M1250.5,1187.2L1256.3,1186.5M1267.6,1185.1L1273.4,1184.4M1284.7,1183.0L1290.5,1182.2M1301.9,1180.7L1307.6,1179.9M1319.0,1178.3L1324.7,1177.5M1336.1,1175.8L1341.9,1174.9M1353.2,1173.2L1359.0,1172.3M1370.4,1170.5L1376.1,1169.6M1387.5,1167.7L1393.2,1166.7M1404.6,1164.8L1410.3,1163.8M1421.7,1161.7L1427.4,1160.7M1438.9,1158.6L1444.6,1157.5M1456.0,1155.4L1461.7,1154.3M1473.1,1152.0L1478.8,1150.9M1490.2,1148.5L1495.9,1147.3M1507.4,1144.9L1513.0,1143.7M1524.5,1141.2L1530.1,1140.0M1541.6,1137.4L1547.3,1136.1M1558.7,1133.5L1564.4,1132.1M1575.9,1129.4L1581.5,1128.0M1593.0,1125.2L1598.6,1123.8M1610.1,1120.9L1615.7,1119.5M1627.2,1116.5L1632.8,1115.0M1644.4,1111.9L1650.0,1110.4M1661.5,1107.3L1667.1,1105.7M1678.6,1102.5L1684.2,1100.9M1695.7,1097.5L1701.3,1095.9M1712.9,1092.5L1718.4,1090.8M1730.0,1087.3L1735.5,1085.6M1747.1,1081.9L1752.7,1080.2M1764.3,1076.5L1769.8,1074.7M1781.4,1070.9L1786.9,1069.1M1798.5,1065.2L1804.0,1063.3M1815.6,1059.3L1821.1,1057.4M1832.8,1053.3L1838.2,1051.4M1849.9,1047.2L1855.3,1045.2" fill="none" stroke="#000" stroke-width="3.1"/>
<circle cx="369.6" cy="498.2" r="19.7" fill="#000"/>
<circle cx="450.6" cy="500.1" r="19.7" fill="#000"/>
<circle cx="513.2" cy="528.8" r="19.7" fill="#000"/>
<circle cx="626.8" cy="524.2" r="19.7" fill="#000"/>
<circle cx="770.6" cy="516" r="19.7" fill="#000"/>
<circle cx="821.2" cy="520.5" r="19.7" fill="#000"/>
<circle cx="1016.2" cy="492.5" r="19.7" fill="#000"/>
<circle cx="1097" cy="490" r="19.7" fill="#000"/>
<circle cx="1159.5" cy="486.25" r="19.7" fill="#000"/>
<circle cx="1273.5" cy="449.1" r="19.7" fill="#000"/>
<circle cx="1354.2" cy="424.5" r="19.7" fill="#000"/>
<circle cx="1470.7" cy="393" r="19.7" fill="#000"/>
<circle cx="1662.1" cy="325.8" r="19.7" fill="#000"/>
<circle cx="1743.6" cy="274.6" r="19.7" fill="#000"/>
<circle cx="1806.5" cy="249.8" r="19.7" fill="#000"/>
<circle cx="773.1" cy="1130.4" r="19.7" fill="#000"/>
<circle cx="824.25" cy="1121.25" r="19.7" fill="#000"/>
<circle cx="1018.75" cy="1161.25" r="19.7" fill="#000"/>
<circle cx="1099.25" cy="1169.5" r="19.7" fill="#000"/>
<circle cx="1162" cy="1098.75" r="19.7" fill="#000"/>
<circle cx="1276.25" cy="1128.75" r="19.7" fill="#000"/>
<circle cx="1357" cy="1138" r="19.7" fill="#000"/>
<circle cx="1473.25" cy="1108" r="19.7" fill="#000"/>
<circle cx="1665" cy="1076.75" r="19.7" fill="#000"/>
<circle cx="1745.9" cy="1065.3" r="19.7" fill="#000"/>
<circle cx="1808.75" cy="1023.5" r="19.7" fill="#000"/>
<line x1="339.80" y1="305.00" x2="338.70" y2="555.80" stroke="#000" stroke-width="3.3" stroke-linecap="butt"/>
<polygon points="322.5,553.8 354.9,553.8 338.7,599.8" fill="#000"/>
<line x1="726.20" y1="860.00" x2="727.40" y2="1177.00" stroke="#000" stroke-width="3.3" stroke-linecap="butt"/>
<polygon points="711.4,1175.0 743.4,1175.0 727.4,1221.3" fill="#000"/>
<text x="182.63" y="540.60" font-size="67" text-anchor="start" font-family="Liberation Serif, serif" >7</text>
<text x="183.25" y="420.45" font-size="67" text-anchor="start" font-family="Liberation Serif, serif" >8</text>
<text x="183.45" y="300.30" font-size="67" text-anchor="start" font-family="Liberation Serif, serif" >9</text>
<text x="149.75" y="180.15" font-size="67" text-anchor="start" font-family="Liberation Serif, serif" >10</text>
<text x="147.47" y="60.00" font-size="67" text-anchor="start" font-family="Liberation Serif, serif" >11</text>
<text x="184.12" y="1246.70" font-size="67" text-anchor="start" font-family="Liberation Serif, serif" >3</text>
<text x="182.55" y="1137.85" font-size="67" text-anchor="start" font-family="Liberation Serif, serif" >4</text>
<text x="184.12" y="1029.00" font-size="67" text-anchor="start" font-family="Liberation Serif, serif" >5</text>
<text x="183.50" y="920.15" font-size="67" text-anchor="start" font-family="Liberation Serif, serif" >6</text>
<text x="183.43" y="811.30" font-size="67" text-anchor="start" font-family="Liberation Serif, serif" >7</text>
<text x="184.05" y="702.45" font-size="67" text-anchor="start" font-family="Liberation Serif, serif" >8</text>
<text x="466.56" y="1359.30" font-size="66" text-anchor="start" font-family="Liberation Serif, serif" >10</text>
<text x="1119.36" y="1359.30" font-size="66" text-anchor="start" font-family="Liberation Serif, serif" >10</text>
<text x="1766.66" y="1359.30" font-size="66" text-anchor="start" font-family="Liberation Serif, serif" >10</text>
<text x="532.08" y="1323.30" font-size="41" text-anchor="start" font-family="Liberation Serif, serif" >-</text>
<text x="544.08" y="1323.30" font-size="41" text-anchor="start" font-family="Liberation Serif, serif" >1</text>
<text x="1184.55" y="1323.30" font-size="41" text-anchor="start" font-family="Liberation Serif, serif" >0</text>
<text x="1830.68" y="1323.30" font-size="41" text-anchor="start" font-family="Liberation Serif, serif" >1</text>
<text x="608.82" y="1453.40" font-size="82.5" text-anchor="start" font-family="Liberation Serif, serif" >Concentration</text>
<text x="1116.07" y="1453.40" font-size="82.5" text-anchor="start" font-family="Liberation Serif, serif" >C</text>
<text x="1212.48" y="1453.40" font-size="82.5" text-anchor="start" font-family="Liberation Serif, serif" >[mg/mL]</text>
<text x="1672.38" y="167.50" font-size="115" text-anchor="start" font-family="Liberation Serif, serif" >A)</text>
<text x="1694.69" y="821.00" font-size="115" text-anchor="start" font-family="Liberation Serif, serif" >B)</text>
<text x="360.25" y="416.80" font-size="88" text-anchor="start" font-family="Liberation Serif, serif" >c</text>
<text x="402.46" y="415.93" font-size="90" text-anchor="start" font-family="Liberation Serif, serif" >*</text>
<text x="752.85" y="1009.80" font-size="88" text-anchor="start" font-family="Liberation Serif, serif" >c</text>
<text x="795.36" y="1008.03" font-size="90" text-anchor="start" font-family="Liberation Serif, serif" >*</text>
<g transform="translate(95.8,1078.0) rotate(-90)">
<text x="1.81" y="0.00" font-size="83" text-anchor="start" font-family="Liberation Serif, serif" >λ</text>
<text x="43.88" y="31.34" font-size="51" text-anchor="start" font-family="Liberation Serif, serif" >p</text>
<text x="110.07" y="3.60" font-size="88" text-anchor="start" font-family="Liberation Serif, serif" >[</text>
<text x="134.37" y="-0.50" font-size="85" text-anchor="start" font-family="Liberation Serif, serif" >1</text>
<text x="197.97" y="0.00" font-size="69" text-anchor="start" font-family="Liberation Serif, serif" >x</text>
<text x="250.68" y="-0.50" font-size="85" text-anchor="start" font-family="Liberation Serif, serif" >10</text>
<text x="336.35" y="-44.60" font-size="51" text-anchor="start" font-family="Liberation Serif, serif" >13</text>
<text x="419.04" y="0.00" font-size="83" text-anchor="start" font-family="Liberation Serif, serif" >c.g.s.</text>
<text x="613.51" y="0.00" font-size="83" text-anchor="start" font-family="Liberation Serif, serif" >units</text>
<text x="774.82" y="3.60" font-size="88" text-anchor="start" font-family="Liberation Serif, serif" >]</text>
</g>
</g>
</svg>
</body></html>
